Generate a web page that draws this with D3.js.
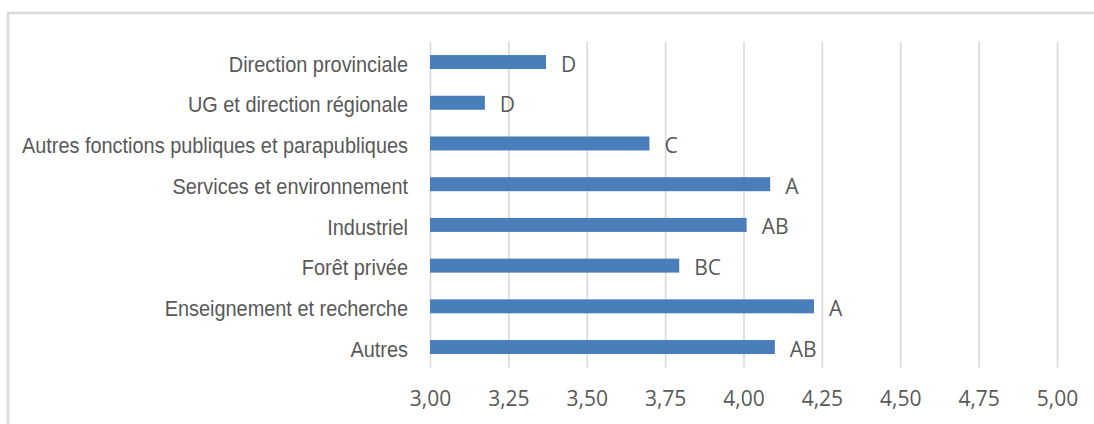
<!DOCTYPE html>
<html>
<head>
<meta charset="utf-8">
<script src="https://cdn.jsdelivr.net/npm/d3@7"></script>
<style>
  html, body { margin: 0; padding: 0; background: #fff; }
  svg { display: block; }
</style>
</head>
<body>
<svg id="chart" width="1094" height="424"></svg>
<script>
// Categories, top to bottom
const categories = [
  "Direction provinciale",
  "UG et direction régionale",
  "Autres fonctions publiques et parapubliques",
  "Services et environnement",
  "Industriel",
  "Forêt privée",
  "Enseignement et recherche",
  "Autres"
];
// Mean score per category
const values = [3.37, 3.175, 3.70, 4.085, 4.01, 3.795, 4.225, 4.10];
// Significance group letters
const groups = ["D", "D", "C", "A", "AB", "BC", "A", "AB"];
// Axis ticks
const tickValues = [3.00, 3.25, 3.50, 3.75, 4.00, 4.25, 4.50, 4.75, 5.00];

const svg = d3.select("#chart");
const W = 1094, H = 424;
const plot = { left: 430, right: 1057, top: 41.7, bottom: 367.4 };

// Chart frame
svg.append("rect")
  .attr("x", 8).attr("y", 13)
  .attr("width", W + 20).attr("height", H + 20)
  .attr("fill", "#fff")
  .attr("stroke", "#d9d9d9")
  .attr("stroke-width", 2.5);

const x = d3.scaleLinear().domain([3, 5]).range([plot.left, plot.right]);
const y = d3.scaleBand()
  .domain(categories)
  .range([plot.top, plot.bottom])
  .paddingInner(0.656)
  .paddingOuter(0.328);

// Vertical gridlines
const grid = d3.axisBottom(x)
  .tickValues(tickValues)
  .tickSize(-(plot.bottom - plot.top))
  .tickFormat("");
svg.append("g")
  .attr("transform", `translate(0,${plot.bottom})`)
  .call(grid)
  .call(g => g.select(".domain").remove())
  .call(g => g.selectAll(".tick line").attr("stroke", "#d9d9d9").attr("stroke-width", 1.6));

// Tick labels
const xAxis = d3.axisBottom(x)
  .tickValues(tickValues)
  .tickSize(0)
  .tickPadding(0)
  .tickFormat(d => d.toFixed(2).replace(".", ","));
svg.append("g")
  .attr("transform", `translate(0,${plot.bottom})`)
  .call(xAxis)
  .call(g => g.select(".domain").remove())
  .call(g => g.selectAll(".tick text")
    .attr("y", 38.3)
    .attr("dy", null)
    .attr("font-family", "'Open Sans', sans-serif")
    .attr("font-size", 21)
    .attr("fill", "#595959"));

const data = categories.map((c, i) => ({ c, v: values[i], g: groups[i] }));

// Bars
svg.append("g").selectAll("rect")
  .data(data)
  .join("rect")
  .attr("x", x(3))
  .attr("y", d => y(d.c))
  .attr("width", d => x(d.v) - x(3))
  .attr("height", y.bandwidth())
  .attr("fill", "#4a7ebb");

// Category labels (condensed sans)
const labelX = 408;
svg.append("g").selectAll("text")
  .data(data)
  .join("text")
  .attr("transform", d => `translate(${labelX},${y(d.c) + y.bandwidth() / 2 + 9.7}) scale(0.905,1)`)
  .attr("text-anchor", "end")
  .attr("font-family", "'Liberation Sans', Arial, sans-serif")
  .attr("font-size", 22)
  .attr("fill", "#595959")
  .text(d => d.c);

// Group letters after each bar
svg.append("g").selectAll("text")
  .data(data)
  .join("text")
  .attr("x", d => x(d.v) + 15)
  .attr("y", d => y(d.c) + y.bandwidth() / 2 + 9.5)
  .attr("font-family", "'Open Sans', sans-serif")
  .attr("font-size", 21)
  .attr("fill", "#595959")
  .text(d => d.g);
</script>
</body>
</html>
